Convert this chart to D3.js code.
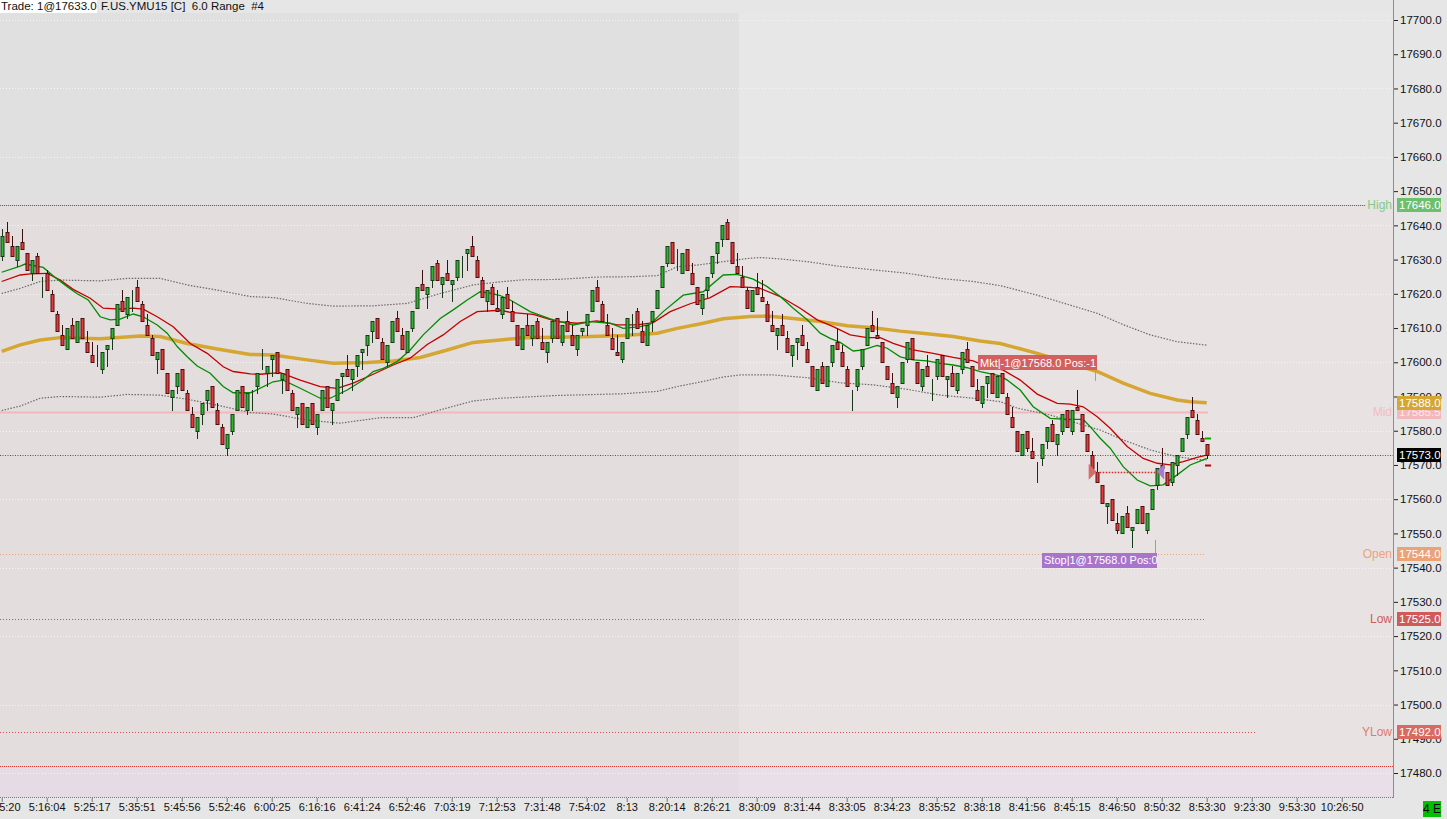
<!DOCTYPE html>
<html>
<head>
<meta charset="utf-8">
<script src="https://cdnjs.cloudflare.com/ajax/libs/d3/7.8.5/d3.min.js"></script>
<style>
  body { margin: 0; background: #e6e6e6; overflow: hidden; }
  svg text { font-family: "Liberation Sans", Arial, sans-serif; }
</style>
</head>
<body>
<svg id="chart"></svg>
<script>
// range bars, one entry per bar (index = bar number)
var opens = [
  17631,17638,17634,17630,17635,17632,17626,17631,17625,17626,
  17620,17614,17608,17604,17611,17606,17613,17606,17602,17599,
  17598,17604,17607,17611,17618,17614,17621,17622,17617,17611,
  17607,17601,17604,17597,17590,17593,17598,17591,17585,17580,
  17585,17589,17593,17586,17581,17575,17580,17586,17593,17586,
  17592,17593,17598,17597,17601,17603,17595,17598,17591,17585,
  17588,17581,17588,17581,17586,17593,17586,17589,17596,17598,
  17595,17599,17603,17605,17609,17613,17606,17600,17606,17613,
  17608,17603,17610,17616,17623,17620,17624,17629,17623,17626,
  17623,17625,17631,17632,17634,17630,17624,17618,17622,17616,
  17614,17620,17615,17611,17604,17611,17607,17612,17606,17603,
  17607,17613,17606,17612,17608,17604,17609,17611,17615,17622,
  17617,17611,17607,17603,17601,17607,17614,17615,17609,17605,
  17612,17616,17622,17629,17635,17627,17626,17633,17626,17622,
  17616,17621,17626,17632,17636,17641,17635,17628,17625,17621,
  17615,17622,17619,17617,17611,17608,17611,17607,17602,17606,
  17608,17604,17599,17592,17599,17593,17600,17606,17603,17598,
  17592,17593,17599,17605,17611,17608,17606,17599,17594,17590,
  17594,17601,17607,17600,17593,17599,17595,17596,17602,17595,
  17597,17592,17598,17604,17599,17592,17588,17594,17597,17590,
  17597,17590,17584,17580,17573,17580,17574,17571,17572,17577,
  17582,17576,17580,17586,17580,17587,17585,17579,17573,17568,
  17564,17558,17560,17553,17550,17556,17551,17553,17558,17551,
  17557,17564,17570,17568,17565,17570,17574,17579,17586,17583,
  17578,17576
];
var highs = [
  17639,17641,17637,17634,17639,17632,17630,17632,17625,17627,
  17621,17615,17611,17610,17613,17612,17613,17609,17606,17605,
  17603,17605,17610,17617,17621,17619,17621,17624,17618,17614,
  17608,17603,17604,17597,17592,17597,17598,17592,17587,17584,
  17588,17592,17593,17588,17582,17579,17585,17592,17593,17591,
  17592,17597,17604,17599,17602,17603,17597,17598,17592,17587,
  17588,17587,17588,17585,17592,17593,17588,17595,17597,17602,
  17598,17602,17604,17608,17612,17613,17607,17605,17612,17615,
  17610,17609,17615,17622,17627,17622,17628,17630,17625,17630,
  17624,17630,17631,17633,17637,17631,17625,17621,17623,17621,
  17619,17622,17618,17611,17610,17614,17611,17613,17610,17606,
  17612,17613,17611,17615,17611,17608,17610,17614,17621,17624,
  17618,17614,17610,17608,17606,17613,17614,17616,17612,17611,
  17615,17621,17628,17634,17635,17633,17632,17633,17629,17622,
  17620,17625,17631,17635,17640,17642,17635,17632,17628,17622,
  17621,17626,17624,17618,17615,17610,17614,17609,17605,17607,
  17611,17606,17599,17598,17600,17599,17605,17610,17605,17599,
  17592,17598,17604,17610,17615,17613,17606,17599,17597,17593,
  17600,17606,17607,17600,17598,17602,17595,17601,17602,17596,
  17599,17597,17603,17606,17599,17595,17593,17596,17597,17596,
  17597,17591,17587,17580,17579,17580,17578,17571,17576,17581,
  17583,17579,17585,17586,17586,17592,17585,17579,17574,17571,
  17564,17559,17560,17556,17555,17558,17552,17557,17558,17556,
  17563,17569,17575,17568,17571,17573,17578,17584,17590,17585,
  17580,17576
];
var lows = [
  17630,17635,17631,17628,17633,17627,17624,17626,17619,17621,
  17615,17609,17605,17604,17607,17606,17607,17603,17600,17599,
  17597,17599,17604,17611,17615,17613,17615,17618,17612,17608,
  17602,17597,17598,17591,17586,17591,17592,17586,17581,17578,
  17582,17586,17587,17582,17576,17573,17579,17586,17587,17585,
  17586,17591,17598,17593,17596,17597,17591,17592,17586,17581,
  17582,17581,17582,17579,17586,17587,17582,17589,17591,17596,
  17592,17596,17598,17602,17606,17607,17601,17599,17606,17609,
  17604,17603,17609,17616,17621,17616,17622,17624,17619,17624,
  17618,17624,17625,17627,17631,17625,17619,17615,17617,17615,
  17613,17616,17612,17605,17604,17608,17605,17607,17604,17600,
  17606,17607,17605,17609,17605,17602,17608,17608,17615,17618,
  17612,17608,17604,17602,17600,17607,17608,17610,17606,17605,
  17609,17616,17622,17628,17629,17627,17626,17627,17623,17617,
  17614,17619,17625,17629,17634,17636,17629,17626,17622,17616,
  17615,17620,17618,17612,17609,17604,17608,17603,17599,17601,
  17605,17600,17593,17592,17594,17593,17599,17604,17599,17593,
  17586,17592,17598,17605,17609,17607,17600,17595,17591,17587,
  17594,17600,17601,17594,17592,17596,17589,17595,17596,17590,
  17593,17591,17597,17600,17593,17589,17587,17590,17591,17590,
  17591,17585,17581,17574,17573,17574,17572,17565,17570,17575,
  17577,17573,17579,17581,17579,17586,17580,17574,17569,17565,
  17559,17553,17554,17550,17550,17552,17546,17553,17553,17550,
  17557,17563,17569,17564,17564,17567,17574,17578,17584,17579,
  17577,17572
];
var closes = [
  17637,17635,17631,17634,17633,17627,17630,17626,17625,17621,
  17615,17609,17605,17610,17607,17612,17607,17603,17600,17599,
  17603,17605,17610,17617,17615,17619,17621,17618,17612,17608,
  17602,17603,17598,17591,17592,17597,17592,17586,17581,17584,
  17588,17592,17587,17582,17576,17579,17585,17592,17587,17591,
  17592,17597,17598,17599,17602,17597,17597,17592,17586,17587,
  17582,17587,17582,17585,17592,17587,17588,17595,17597,17596,
  17598,17602,17604,17608,17612,17607,17601,17605,17612,17609,
  17604,17609,17615,17622,17621,17622,17628,17624,17625,17624,
  17624,17630,17631,17633,17631,17625,17619,17621,17617,17615,
  17619,17616,17612,17605,17610,17608,17611,17607,17604,17606,
  17612,17607,17611,17609,17605,17608,17610,17614,17621,17618,
  17612,17608,17604,17602,17606,17613,17614,17610,17606,17611,
  17615,17621,17628,17634,17629,17627,17632,17627,17623,17617,
  17620,17625,17631,17635,17640,17636,17629,17626,17622,17616,
  17621,17620,17618,17612,17609,17610,17608,17603,17605,17607,
  17605,17600,17593,17598,17594,17599,17605,17604,17599,17593,
  17592,17598,17604,17610,17609,17607,17600,17595,17591,17593,
  17600,17606,17601,17594,17598,17596,17595,17601,17596,17596,
  17593,17597,17603,17600,17593,17589,17593,17596,17591,17596,
  17591,17585,17581,17574,17579,17575,17572,17571,17576,17581,
  17577,17579,17585,17581,17586,17586,17580,17574,17569,17565,
  17559,17559,17554,17551,17555,17552,17552,17557,17553,17556,
  17563,17569,17569,17564,17571,17573,17578,17584,17584,17579,
  17577,17573
];

// indicator lines: [bar, price]
var fastLine = [
  [0,17626.3],[3.7,17628.1],[4.7,17628.7],[8.3,17627.7],[10.7,17624.8],[13.1,17622.1],[15.1,17620.0],[17.3,17618.2],
  [19.7,17613.3],[21.7,17612.4],[23.7,17612.6],[26.3,17614.1],[28.3,17613.3],[31.1,17610.9],[33.1,17608.5],[35.1,17604.6],
  [37.1,17601.6],[39.1,17598.9],[41.7,17596.8],[44.3,17592.9],[46.3,17591.1],[49.7,17591.1],[50.3,17591.4],[54.3,17594.3],
  [56.3,17594.8],[59.7,17592.4],[63.7,17589.5],[65.7,17589.5],[69.1,17591.9],[72.3,17594.8],[74.3,17597.3],[76.3,17598.2],
  [79.1,17600.2],[81.7,17603.6],[84.3,17608.0],[87.7,17612.8],[90.3,17615.3],[93.1,17618.2],[95.7,17620.6],[97.7,17620.2],
  [99.7,17619.5],[101.7,17618.2],[105.7,17614.8],[109.7,17612.7],[114.3,17610.9],[117.7,17611.9],[121.7,17611.4],[124.3,17609.9],
  [127.7,17610.4],[129.7,17611.1],[132.3,17614.8],[136.3,17619.6],[140.3,17620.6],[144.3,17625.5],[147.1,17625.7],[150.3,17624.3],
  [153.1,17622.1],[155.7,17619.2],[158.3,17615.8],[161.1,17612.4],[163.7,17608.5],[165.7,17607.0],[167.7,17605.8],[170.3,17603.3],
  [172.3,17603.6],[175.1,17604.9],[177.1,17604.1],[179.7,17601.6],[182.3,17600.7],[185.1,17600.4],[187.7,17599.7],[190.3,17599.2],
  [193.1,17598.4],[195.7,17597.3],[199.7,17596.0],[201.1,17594.8],[203.7,17591.9],[206.3,17587.0],[209.7,17583.6],[213.1,17583.3],
  [216.3,17583.3],[217.7,17581.2],[219.7,17577.8],[221.7,17574.9],[224.3,17569.5],[227.1,17565.6],[229.7,17563.9],[232.3,17564.2],
  [235.1,17567.1],[237.7,17570.0],[240.3,17571.5],[241,17571.9]
];
var slowLine = [
  [0,17623.6],[3.7,17625.5],[5.7,17625.8],[9.1,17626.0],[11.7,17624.0],[14.3,17621.3],[17.7,17618.7],[20.3,17615.8],
  [23.7,17615.5],[26.3,17615.8],[28.3,17615.5],[31.1,17613.3],[34.3,17610.4],[37.7,17605.5],[41.1,17602.6],[44.3,17598.7],
  [46.3,17597.3],[49.7,17596.6],[51.7,17596.5],[55.7,17597.0],[59.7,17594.8],[63.7,17592.9],[67.1,17592.4],[70.3,17593.9],
  [74.3,17596.5],[78.3,17599.2],[81.7,17601.2],[85.1,17605.2],[88.3,17608.0],[91.7,17611.9],[95.1,17614.8],[99.7,17615.2],
  [101.7,17614.6],[106.3,17614.0],[111.1,17611.9],[115.1,17611.4],[119.1,17612.1],[123.1,17610.9],[127.1,17610.9],[130.3,17611.6],
  [133.7,17614.8],[137.7,17617.1],[141.7,17618.9],[145.7,17622.1],[149.7,17621.9],[151.7,17621.6],[155.7,17619.2],[159.7,17615.8],
  [163.1,17612.4],[166.3,17610.4],[169.7,17608.0],[173.1,17607.2],[175.7,17607.2],[178.3,17605.5],[182.3,17603.6],[186.3,17602.6],
  [190.3,17601.4],[194.3,17600.4],[196.3,17599.2],[200.3,17597.7],[203.7,17594.8],[207.1,17590.7],[211.1,17588.0],[213.7,17587.8],
  [216.3,17587.0],[219.1,17584.1],[221.7,17580.7],[225.1,17575.4],[228.3,17571.9],[231.1,17570.5],[233.7,17570.0],[236.3,17571.0],
  [239.1,17572.2],[241,17572.9]
];
var longLine = [
  [0,17603.2],[3.7,17605.1],[7.7,17606.5],[11.7,17607.2],[19.7,17606.9],[27.7,17607.7],[31.7,17607.5],[37.1,17605.5],
  [43.1,17603.9],[49.7,17602.3],[54.3,17602.1],[61.1,17600.7],[66.3,17599.7],[73.1,17599.9],[78.3,17600.4],[83.7,17601.4],
  [89.1,17603.6],[94.3,17605.8],[99.7,17606.5],[104.3,17607.2],[111.1,17607.3],[117.7,17607.5],[124.3,17607.8],[131.1,17608.5],
  [135.1,17609.9],[140.3,17611.4],[144.3,17612.7],[149.7,17613.4],[153.1,17613.5],[158.3,17612.8],[163.7,17611.9],[169.1,17610.7],
  [174.3,17610.1],[179.7,17609.1],[185.1,17608.3],[190.3,17607.5],[195.7,17606.2],[199.7,17605.5],[207.1,17602.6],[213.7,17599.7],
  [219.1,17597.3],[224.3,17593.9],[229.7,17590.9],[235.1,17589.0],[237.7,17588.5],[241,17588.2]
];
var upperBand = [
  [0,17620.1],[3.7,17621.6],[7.7,17623.6],[11.7,17624.0],[19.7,17623.8],[25.1,17624.5],[31.7,17624.5],[37.1,17622.6],
  [43.1,17621.1],[49.7,17619.2],[54.3,17618.9],[61.1,17617.2],[66.3,17616.4],[74.3,17616.5],[81.1,17617.2],[87.7,17620.1],
  [94.3,17622.6],[99.7,17623.5],[104.3,17624.1],[111.1,17624.2],[119.1,17624.9],[125.7,17625.0],[131.1,17625.3],[135.1,17627.9],
  [139.1,17628.4],[144.3,17629.4],[149.7,17630.4],[151.7,17630.6],[155.7,17630.2],[161.1,17629.4],[167.7,17628.0],[174.3,17627.0],
  [181.1,17626.0],[187.7,17624.5],[194.3,17623.6],[199.7,17622.4],[207.1,17619.6],[213.7,17616.7],[219.1,17614.3],[224.3,17611.0],
  [229.7,17608.0],[235.1,17606.0],[241,17605.0]
];
var lowerBand = [
  [0,17585.9],[3.7,17587.2],[7.7,17589.5],[11.7,17590.0],[19.7,17589.8],[25.1,17590.6],[31.7,17590.4],[37.1,17589.2],
  [43.1,17587.5],[49.7,17585.3],[54.3,17584.9],[61.1,17583.1],[67.7,17582.2],[75.7,17583.8],[82.3,17583.8],[87.7,17586.1],
  [94.3,17588.7],[99.7,17589.5],[111.1,17590.3],[124.3,17590.8],[131.1,17591.5],[135.1,17592.9],[140.3,17594.4],[144.3,17595.7],
  [147.7,17596.3],[154.3,17596.3],[161.1,17595.5],[167.7,17594.0],[174.3,17593.4],[181.1,17592.1],[187.7,17590.4],[194.3,17589.5],
  [199.7,17588.5],[203.1,17586.6],[209.7,17584.6],[215.1,17582.2],[219.7,17580.2],[224.3,17577.3],[229.7,17574.4],[235.1,17572.4],
  [239.1,17571.6],[241,17571.5]
];

// time axis
var tickBars = [0,9,18,27,36,45,54,63,72,81,90,99,108,117,125,133,142,151,160,169,178,187,196,205,214,223,232,241,250,259,268];
var tickLabels = ["5:05:20","5:16:04","5:25:17","5:35:51","5:45:56","5:52:46","6:00:25","6:16:16","6:41:24","6:52:46",
  "7:03:19","7:12:53","7:31:48","7:54:02","8:13","8:20:14","8:26:21","8:30:09","8:31:44","8:33:05","8:34:23","8:35:52",
  "8:38:18","8:41:56","8:45:15","8:46:50","8:50:32","8:53:30","9:23:30","9:53:30","10:26:50"];

// price axis
var priceTicks = [17480,17490,17500,17510,17520,17530,17540,17550,17560,17570,17580,17590,
  17600,17610,17620,17630,17640,17650,17660,17670,17680,17690,17700];
var gridPrices = [17480,17500,17520,17540,17560,17580,17600,17620,17640,17660,17680,17700];

// session levels
var levelNames  = ["High","Mid","Open","Low","YLow"];
var levelValues = [17646, 17585.5, 17544, 17525, 17492];
var lastPrice = 17573;
var longValue = 17588;
var rangeFloor = 17482;
var sessionBreak = 147.5;

// orders
var entryBar = 217.4, exitBar = 231.1, fillPrice = 17568;
var orderTexts = ["Mkt|-1@17568.0 Pos:-1", "Stop|1@17568.0 Pos:0"];
var orderLabelPrices = [17599.9, 17542.2];
var bidAsk = [17578, 17570];

var titleTrade = "Trade: 1@17633.0";
var titleRest = "F.US.YMU15 [C]  6.0 Range  #4";

var width = 1447, height = 819;
var plotRight = 1393, plotTop = 13, plotBottom = 798;

var svg = d3.select('#chart')
            .attr('width', width)
            .attr('height', height);

var x = d3.scaleLinear()
          .domain([0, 278])
          .range([1.7, 1391.7]);
var y = d3.scaleLinear()
          .domain([17480, 17700])
          .range([773, 20]);

function px(v) { return Math.round(x(v)); }
function py(v) { return Math.round(y(v)); }

// backgrounds
svg.append('rect').attr('width', width).attr('height', height).attr('fill', '#e6e6e6');
var xb = Math.round(x(sessionBreak));
svg.append('rect').attr('x', 0).attr('y', plotTop).attr('width', xb).attr('height', plotBottom - plotTop).attr('fill', '#e0e0e0');
svg.append('rect').attr('x', xb).attr('y', plotTop).attr('width', plotRight - xb).attr('height', plotBottom - plotTop).attr('fill', '#e7e7e7');
svg.append('rect').attr('x', 0).attr('y', py(levelValues[0])).attr('width', plotRight)
   .attr('height', py(rangeFloor) - py(levelValues[0])).attr('fill', '#f2d4d4').attr('opacity', 0.2);
svg.append('rect').attr('x', 0).attr('y', py(rangeFloor)).attr('width', plotRight)
   .attr('height', plotBottom - py(rangeFloor)).attr('fill', '#ecd0ea').attr('opacity', 0.35);

var plot = svg.append('g');

// grid
plot.selectAll('.grid')
    .data(gridPrices)
    .enter()
    .append('line')
    .attr('x1', 0).attr('x2', plotRight)
    .attr('y1', function (d) { return py(d) + 0.5; })
    .attr('y2', function (d) { return py(d) + 0.5; })
    .attr('stroke', '#f6f6f6')
    .attr('stroke-dasharray', '1,2');

// level lines
var levelEnds = [1365, 1208, 1205, 1205, 1255];
var levelStroke = ['#d43a3a', '#f1b9bd', '#eba47a', '#d45050', '#d45050'];
var levelDash = ['1,1', null, '1,2', '1,2', '1,2'];
levelValues.forEach(function (v, i) {
  plot.append('line')
      .attr('x1', 0).attr('x2', levelEnds[i])
      .attr('y1', py(v) + 0.5).attr('y2', py(v) + 0.5)
      .attr('stroke', levelStroke[i])
      .attr('stroke-width', i == 1 ? 2 : 1)
      .attr('stroke-dasharray', levelDash[i]);
});
plot.append('line')
    .attr('x1', 0).attr('x2', plotRight)
    .attr('y1', py(rangeFloor) + 0.5).attr('y2', py(rangeFloor) + 0.5)
    .attr('stroke', '#d43c3c').attr('stroke-dasharray', '1,1');
plot.append('line')
    .attr('x1', 0).attr('x2', plotRight)
    .attr('y1', py(lastPrice) + 0.5).attr('y2', py(lastPrice) + 0.5)
    .attr('stroke', '#b82c2c').attr('stroke-dasharray', '1,1.5');

// indicators
var line = d3.line()
             .x(function (d) { return x(d[0]); })
             .y(function (d) { return y(d[1]); });

[upperBand, lowerBand].forEach(function (band) {
  plot.append('path').datum(band).attr('d', line)
      .attr('fill', 'none').attr('stroke', '#6e6a6a')
      .attr('stroke-width', 1.2).attr('stroke-dasharray', '1.5,1.5');
});
plot.append('path').datum(longLine).attr('d', line)
    .attr('fill', 'none').attr('stroke', '#d6a632').attr('stroke-width', 3.5);
plot.append('path').datum(slowLine).attr('d', line)
    .attr('fill', 'none').attr('stroke', '#c40000').attr('stroke-width', 1.3);
plot.append('path').datum(fastLine).attr('d', line)
    .attr('fill', 'none').attr('stroke', '#008c00').attr('stroke-width', 1.3);

// candles
var bars = d3.range(closes.length);
var candle = plot.selectAll('.bar')
                 .data(bars)
                 .enter()
                 .append('g');

candle.append('line')
      .attr('x1', function (i) { return px(i) + 0.5; })
      .attr('x2', function (i) { return px(i) + 0.5; })
      .attr('y1', function (i) { return py(highs[i]); })
      .attr('y2', function (i) { return py(lows[i]) + 1; })
      .attr('stroke', function (i) { return closes[i] >= opens[i] ? '#17361a' : '#3c0e0e'; });

candle.append('rect')
      .attr('x', function (i) { return px(i) - 1; })
      .attr('y', function (i) { return py(Math.max(opens[i], closes[i])) + 0.5; })
      .attr('width', 3)
      .attr('height', function (i) { return Math.max(0, py(Math.min(opens[i], closes[i])) - py(Math.max(opens[i], closes[i]))); })
      .attr('fill', function (i) { return closes[i] > opens[i] ? '#31b531' : '#e83a3a'; })
      .attr('stroke', function (i) { return closes[i] > opens[i] ? '#173a17' : '#4a1010'; })
      .attr('stroke-width', 1);

// bid / ask ticks
plot.append('line').attr('x1', px(240.6)).attr('x2', px(241.8))
    .attr('y1', py(bidAsk[0]) + 0.5).attr('y2', py(bidAsk[0]) + 0.5)
    .attr('stroke', '#00b000').attr('stroke-width', 2);
plot.append('line').attr('x1', px(240.6)).attr('x2', px(241.8))
    .attr('y1', py(bidAsk[1]) + 0.5).attr('y2', py(bidAsk[1]) + 0.5)
    .attr('stroke', '#c00000').attr('stroke-width', 2);

// orders
var yf = y(fillPrice);
plot.append('line')
    .attr('x1', x(entryBar) + 8).attr('x2', x(exitBar))
    .attr('y1', Math.round(yf) + 0.5).attr('y2', Math.round(yf) + 0.5)
    .attr('stroke', '#d42a2a').attr('stroke-width', 1.5).attr('stroke-dasharray', '1.5,1.5');
plot.append('path')
    .attr('d', 'M' + x(entryBar) + ',' + (yf - 8) + 'L' + x(entryBar) + ',' + (yf + 8) + 'L' + (x(entryBar) + 8) + ',' + yf + 'Z')
    .attr('fill', '#d86a6a');
plot.append('path')
    .attr('d', 'M' + (x(exitBar) + 7) + ',' + (yf - 8) + 'L' + (x(exitBar) + 7) + ',' + (yf + 8) + 'L' + x(exitBar) + ',' + yf + 'Z')
    .attr('fill', '#a978d0');

var orderBoxes = [
  { x: 978, w: 119, fill: '#d2605f', lx: 1095, ly1: 370, ly2: 381, lc: '#d88a8a' },
  { x: 1042, w: 115, fill: '#a874cc', lx: 1155, ly1: 540, ly2: 553, lc: '#b08ad0' }
];
orderBoxes.forEach(function (b, i) {
  var cy = y(orderLabelPrices[i]);
  plot.append('line').attr('x1', b.lx + 0.5).attr('x2', b.lx + 0.5)
      .attr('y1', b.ly1).attr('y2', b.ly2).attr('stroke', b.lc);
  plot.append('rect').attr('x', b.x).attr('y', Math.round(cy - 7.5))
      .attr('width', b.w).attr('height', 15).attr('fill', b.fill);
  plot.append('text').attr('x', b.x + 2).attr('y', Math.round(cy) + 4)
      .attr('fill', '#ffffff').style('font-size', '11px')
      .text(orderTexts[i]);
});

// bottom border
svg.append('line').attr('x1', 0).attr('x2', plotRight)
   .attr('y1', plotBottom - 0.5).attr('y2', plotBottom - 0.5)
   .attr('stroke', '#7a7a7a').attr('stroke-dasharray', '1,1');

// time axis
var xAxis = d3.axisBottom(x)
              .tickValues(tickBars)
              .tickFormat(function (d, i) { return tickLabels[i]; })
              .tickSize(4)
              .tickPadding(1);
var gx = svg.append('g')
            .attr('transform', 'translate(0,' + plotBottom + ')')
            .call(xAxis);
gx.select('.domain').remove();
gx.selectAll('.tick line').attr('stroke', '#777');
gx.selectAll('text').attr('fill', '#111').style('font-size', '11px').style('font-family', '"Liberation Sans", Arial, sans-serif');

// price axis
svg.append('line').attr('x1', plotRight + 0.5).attr('x2', plotRight + 0.5)
   .attr('y1', 0).attr('y2', plotBottom).attr('stroke', '#8c8c8c');
var yAxis = d3.axisRight(y)
              .tickValues(priceTicks)
              .tickFormat(function (d) { return d.toFixed(1); })
              .tickSize(4)
              .tickPadding(2);
var gy = svg.append('g')
            .attr('transform', 'translate(' + (plotRight + 1) + ',0)')
            .call(yAxis);
gy.select('.domain').remove();
gy.selectAll('.tick line').attr('stroke', '#222');
gy.selectAll('text').attr('fill', '#111').style('font-size', '11.5px').style('font-family', '"Liberation Sans", Arial, sans-serif');

// level names and value boxes
var nameColors = ['#86c986', '#f2bcc4', '#eca47c', '#d05a5a', '#e07a6a'];
var boxColors  = ['#6cbf6c', '#f3b8bb', '#eba276', '#d05a5a', '#d86a62'];
levelValues.forEach(function (v, i) {
  svg.append('text').attr('x', 1392).attr('y', py(v) + 4)
     .attr('text-anchor', 'end').attr('fill', nameColors[i])
     .style('font-size', '12px').text(levelNames[i]);
});
function valueBox(v, fill, color) {
  var cy = py(v);
  svg.append('rect').attr('x', 1397).attr('y', cy - 7).attr('width', 44).attr('height', 14).attr('fill', fill);
  svg.append('text').attr('x', 1399).attr('y', cy + 4).attr('fill', color)
     .style('font-size', '11.5px').text(v.toFixed(1));
}
valueBox(levelValues[0], boxColors[0], '#ffffff');
valueBox(levelValues[1], boxColors[1], '#fbeaea');
valueBox(longValue, '#d6a632', '#ffffff');
valueBox(lastPrice, '#000000', '#ffffff');
valueBox(levelValues[2], boxColors[2], '#ffffff');
valueBox(levelValues[3], boxColors[3], '#ffffff');
valueBox(levelValues[4], boxColors[4], '#ffffff');

// status box
svg.append('rect').attr('x', 1423).attr('y', 801).attr('width', 18).attr('height', 16).attr('fill', '#00c000');
svg.append('text').attr('x', 1432).attr('y', 813).attr('text-anchor', 'middle')
   .attr('fill', '#000').style('font-size', '12px').text('4 E');

// title
svg.append('rect').attr('x', 0).attr('y', 0).attr('width', plotRight).attr('height', plotTop).attr('fill', '#e6e6e6');
svg.append('rect').attr('x', 0).attr('y', 0).attr('width', 97).attr('height', plotTop).attr('fill', '#ffffff');
svg.append('text').attr('x', 1).attr('y', 10).attr('fill', '#111').style('font-size', '11.5px').text(titleTrade);
svg.append('text').attr('x', 101).attr('y', 10).attr('fill', '#111').style('font-size', '11.5px')
   .style('white-space', 'pre').text(titleRest);
</script>
</body>
</html>
